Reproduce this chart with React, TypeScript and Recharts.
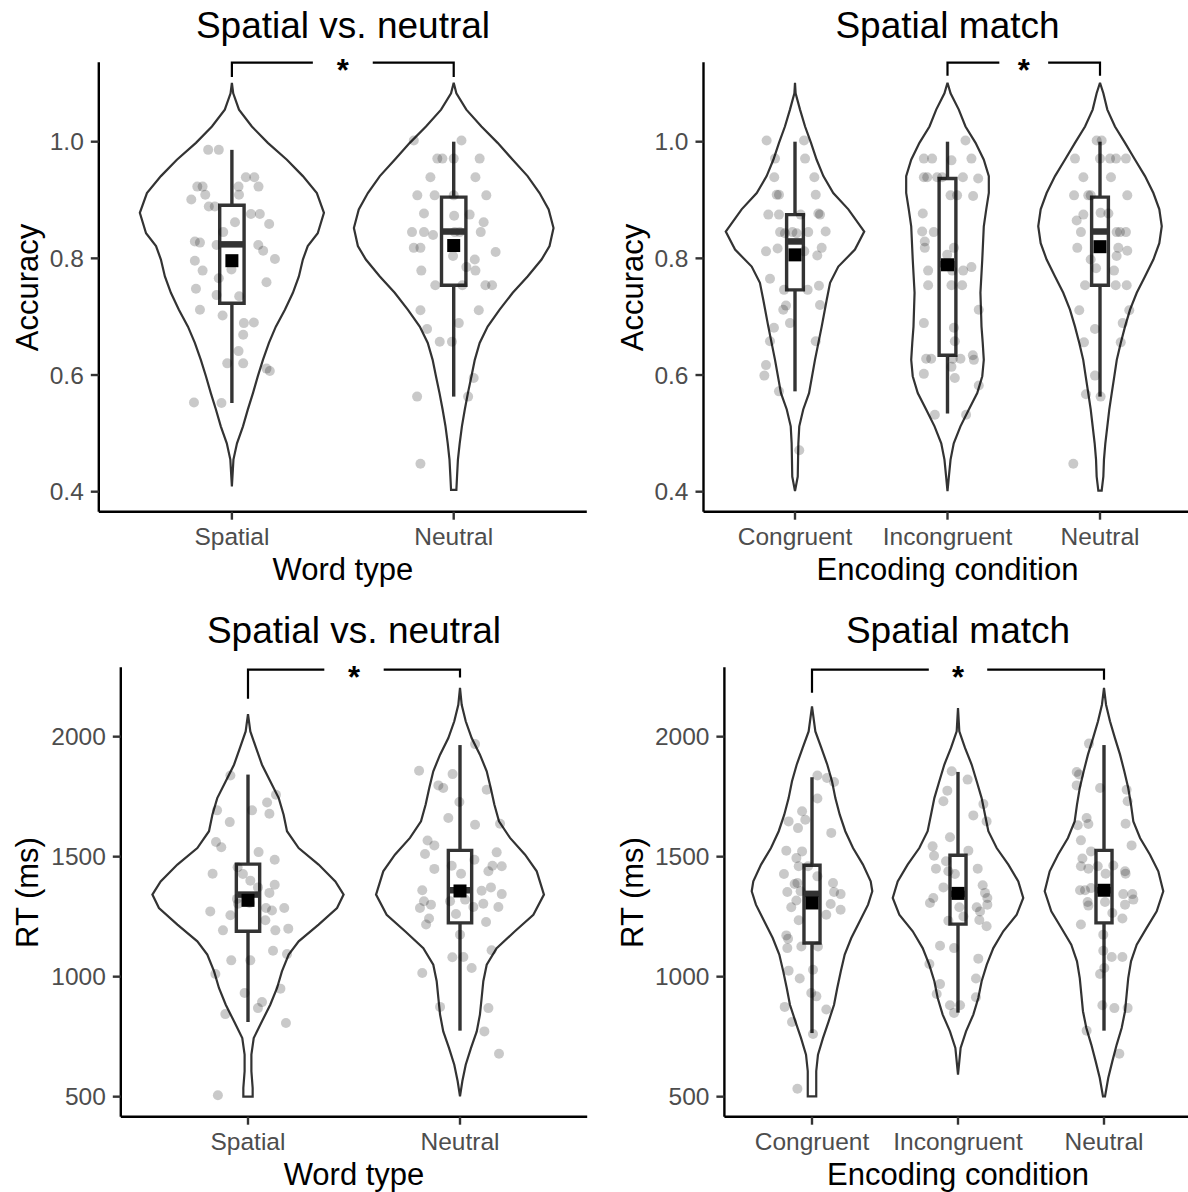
import React from 'react';
import { ComposedChart, XAxis, YAxis, Scatter } from 'recharts';

const FONT = '"Liberation Sans", Arial, Helvetica, sans-serif';
const INK = '#333333';

// ---------------- categories & ticks ----------------
const wordTypes = ['Spatial', 'Neutral'];
const encodingConditions = ['Congruent', 'Incongruent', 'Neutral'];
const accuracyTicks = [0.4, 0.6, 0.8, 1.0];
const rtTicks = [500, 1000, 1500, 2000];

// ---------------- Accuracy / Word type : Spatial ----------------
const accSpatialLevels = [1.101, 1.083, 1.055, 1.026, 0.998, 0.969, 0.941, 0.912, 0.878, 0.843, 0.821, 0.798, 0.769, 0.741, 0.712, 0.683, 0.655, 0.626, 0.598, 0.569, 0.541, 0.512, 0.483, 0.455, 0.409];
const accSpatialHalf = [0, 0.006, 0.032, 0.09, 0.162, 0.248, 0.32, 0.383, 0.415, 0.387, 0.342, 0.32, 0.302, 0.275, 0.239, 0.198, 0.167, 0.14, 0.117, 0.095, 0.072, 0.05, 0.023, 0.007, 0];
const accSpatialValues = [0.986, 0.986, 0.939, 0.939, 0.923, 0.923, 0.923, 0.923, 0.909, 0.901, 0.909, 0.889, 0.889, 0.876, 0.876, 0.862, 0.859, 0.845, 0.829, 0.827, 0.823, 0.823, 0.813, 0.796, 0.799, 0.779, 0.781, 0.766, 0.759, 0.748, 0.737, 0.735, 0.712, 0.702, 0.689, 0.69, 0.669, 0.641, 0.62, 0.62, 0.611, 0.607, 0.553, 0.552];
const accSpatialJitter = [-0.107, -0.059, 0.063, 0.101, -0.156, -0.132, 0.12, 0.03, -0.12, -0.183, 0.032, -0.104, -0.077, 0.086, 0.126, 0.014, 0.168, -0.039, -0.167, -0.144, -0.069, 0.119, 0.141, -0.167, 0.194, -0.132, -0.002, -0.059, 0.156, -0.162, -0.069, 0.033, -0.144, -0.042, 0.054, 0.099, 0.051, 0.03, -0.021, 0.051, 0.156, 0.171, -0.171, -0.047];
const accSpatialBox = [0.552, 0.723, 0.824, 0.891, 0.986];
const accSpatialMean = 0.796;

// ---------------- Accuracy / Word type : Neutral ----------------
const accNeutralWLevels = [1.101, 1.083, 1.055, 1.026, 0.998, 0.969, 0.941, 0.912, 0.884, 0.852, 0.821, 0.798, 0.769, 0.741, 0.712, 0.683, 0.655, 0.626, 0.598, 0.569, 0.541, 0.512, 0.483, 0.455, 0.426, 0.403];
const accNeutralWHalf = [0, 0.012, 0.057, 0.125, 0.198, 0.266, 0.333, 0.387, 0.428, 0.45, 0.432, 0.396, 0.333, 0.266, 0.207, 0.153, 0.117, 0.095, 0.08, 0.064, 0.05, 0.037, 0.027, 0.019, 0.015, 0.012];
const accNeutralWValues = [1.002, 1.002, 0.971, 0.971, 0.971, 0.971, 0.939, 0.939, 0.908, 0.908, 0.908, 0.908, 0.877, 0.873, 0.875, 0.862, 0.845, 0.845, 0.84, 0.845, 0.845, 0.845, 0.818, 0.818, 0.811, 0.804, 0.798, 0.785, 0.779, 0.779, 0.754, 0.754, 0.754, 0.754, 0.711, 0.711, 0.689, 0.679, 0.657, 0.657, 0.595, 0.563, 0.563, 0.448];
const accNeutralWJitter = [-0.18, 0.035, -0.074, -0.051, 0, 0.117, -0.105, 0.098, -0.164, -0.086, 0, 0.147, -0.134, 0.002, 0.072, 0.135, -0.188, -0.134, -0.093, 0.005, 0.027, 0.122, -0.18, -0.15, 0.189, -0.003, 0.095, 0.057, -0.146, 0.098, -0.083, 0.039, 0.143, 0.173, -0.15, 0.113, 0.023, -0.12, -0.063, -0.008, 0.09, -0.165, 0.065, -0.15];
const accNeutralWBox = [0.563, 0.754, 0.846, 0.905, 1.0];
const accNeutralWMean = 0.822;

// ---------------- Accuracy / Encoding : Congruent ----------------
const accCongruentLevels = [1.101, 1.083, 1.055, 1.026, 0.998, 0.969, 0.941, 0.912, 0.884, 0.846, 0.815, 0.786, 0.758, 0.729, 0.683, 0.626, 0.569, 0.541, 0.512, 0.483, 0.426, 0.401];
const accCongruentHalf = [0, 0.004, 0.033, 0.066, 0.105, 0.142, 0.186, 0.251, 0.35, 0.454, 0.393, 0.284, 0.23, 0.208, 0.175, 0.131, 0.092, 0.054, 0.028, 0.022, 0.018, 0];
const accCongruentValues = [1.002, 1.002, 0.971, 0.971, 0.939, 0.939, 0.909, 0.909, 0.909, 0.875, 0.875, 0.875, 0.877, 0.875, 0.845, 0.845, 0.843, 0.845, 0.846, 0.843, 0.812, 0.817, 0.812, 0.818, 0.805, 0.765, 0.746, 0.753, 0.746, 0.719, 0.712, 0.72, 0.681, 0.689, 0.658, 0.658, 0.617, 0.599, 0.572, 0.471];
const accCongruentJitter = [-0.186, 0.059, -0.131, 0.066, -0.136, 0.127, -0.12, -0.105, 0.136, -0.175, -0.105, 0.037, 0.153, 0.164, -0.098, -0.017, 0.011, 0.087, 0.201, -0.066, -0.19, -0.114, 0.061, 0.175, 0.146, -0.164, 0.083, 0.157, -0.072, -0.059, -0.077, 0.164, -0.138, -0.033, -0.164, 0.136, -0.19, -0.201, -0.105, 0.028];
const accCongruentBox = [0.572, 0.746, 0.829, 0.875, 1.0];
const accCongruentMean = 0.806;

// ---------------- Accuracy / Encoding : Incongruent ----------------
const accIncongruentLevels = [1.101, 1.083, 1.055, 1.026, 0.998, 0.969, 0.941, 0.912, 0.884, 0.855, 0.798, 0.741, 0.683, 0.655, 0.626, 0.598, 0.569, 0.541, 0.512, 0.483, 0.455, 0.426, 0.401];
const accIncongruentHalf = [0, 0.02, 0.074, 0.118, 0.184, 0.238, 0.271, 0.271, 0.254, 0.238, 0.228, 0.216, 0.223, 0.231, 0.238, 0.228, 0.195, 0.14, 0.085, 0.041, 0.02, 0.009, 0];
const accIncongruentValues = [1.002, 0.971, 0.971, 0.968, 0.971, 0.939, 0.939, 0.939, 0.939, 0.939, 0.937, 0.908, 0.908, 0.907, 0.877, 0.846, 0.845, 0.829, 0.818, 0.818, 0.806, 0.779, 0.779, 0.779, 0.785, 0.754, 0.754, 0.754, 0.712, 0.689, 0.681, 0.658, 0.628, 0.628, 0.628, 0.628, 0.634, 0.626, 0.602, 0.614, 0.595, 0.582, 0.532, 0.532];
const accIncongruentJitter = [0.118, -0.155, -0.101, 0.026, 0.157, -0.155, -0.133, -0.068, -0.035, 0.101, 0.201, 0.02, 0.063, 0.168, -0.162, -0.166, -0.09, -0.149, -0.149, 0.042, -0.002, -0.127, 0.031, 0.103, 0.157, -0.127, 0.026, 0.096, 0.205, -0.155, 0.042, 0.048, -0.14, -0.107, 0.035, 0.085, 0.166, 0.173, -0.155, 0.026, 0.048, 0.205, -0.083, 0.122];
const accIncongruentBox = [0.534, 0.634, 0.79, 0.937, 1.0];
const accIncongruentMean = 0.789;

// ---------------- Accuracy / Encoding : Neutral ----------------
const accNeutralELevels = [1.101, 1.083, 1.055, 1.026, 0.998, 0.969, 0.941, 0.912, 0.884, 0.855, 0.826, 0.798, 0.769, 0.741, 0.712, 0.683, 0.655, 0.626, 0.598, 0.569, 0.541, 0.512, 0.483, 0.455, 0.426, 0.402];
const accNeutralEHalf = [0, 0.022, 0.048, 0.098, 0.164, 0.23, 0.295, 0.35, 0.389, 0.405, 0.389, 0.35, 0.295, 0.241, 0.197, 0.164, 0.136, 0.11, 0.094, 0.077, 0.061, 0.048, 0.035, 0.026, 0.022, 0.011];
const accNeutralEValues = [1.002, 1.002, 0.971, 0.971, 0.971, 0.971, 0.971, 0.939, 0.939, 0.908, 0.908, 0.908, 0.908, 0.875, 0.878, 0.877, 0.865, 0.845, 0.845, 0.845, 0.845, 0.818, 0.818, 0.813, 0.798, 0.804, 0.783, 0.779, 0.754, 0.754, 0.754, 0.711, 0.711, 0.679, 0.689, 0.656, 0.656, 0.599, 0.567, 0.563, 0.448];
const accNeutralEJitter = [-0.022, 0.011, -0.164, 0, 0.066, 0.105, 0.17, -0.109, 0.072, -0.17, -0.077, -0.061, 0.179, -0.109, 0.004, 0.055, -0.153, -0.125, 0.109, 0.131, 0.17, -0.149, 0.12, 0.179, -0.061, 0.109, -0.026, 0.092, -0.098, 0.103, 0.175, -0.136, 0.192, -0.033, 0.149, -0.105, 0.136, -0.033, -0.092, 0.004, -0.175];
const accNeutralEBox = [0.563, 0.754, 0.846, 0.905, 1.0];
const accNeutralEMean = 0.82;

// ---------------- RT / Word type : Spatial ----------------
const rtSpatialLevels = [2094, 2022, 1953, 1883, 1814, 1744, 1675, 1606, 1536, 1467, 1397, 1342, 1286, 1217, 1147, 1092, 1022, 953, 883, 814, 744, 675, 606, 536, 500];
const rtSpatialHalf = [0, 0.011, 0.038, 0.066, 0.105, 0.145, 0.168, 0.184, 0.239, 0.333, 0.412, 0.451, 0.42, 0.333, 0.239, 0.192, 0.16, 0.137, 0.105, 0.066, 0.027, 0.016, 0.016, 0.022, 0.022];
const rtSpatialValues = [1838, 1693, 1644, 1693, 1726, 1679, 1758, 1561, 1539, 1519, 1487, 1429, 1456, 1428, 1400, 1372, 1383, 1349, 1324, 1272, 1256, 1304, 1307, 1286, 1276, 1286, 1193, 1235, 1193, 1200, 1108, 1094, 1068, 1068, 1011, 950, 932, 894, 869, 844, 807, 506];
const rtSpatialJitter = [-0.083, -0.146, -0.086, 0.019, 0.09, 0.101, 0.132, -0.151, -0.126, 0.05, 0.126, -0.167, -0.049, -0.024, 0.011, 0.047, 0.126, 0.101, -0.052, -0.178, -0.083, -0.047, 0.008, 0.085, 0.113, 0.171, -0.118, 0.082, 0.129, 0.19, 0.118, 0.184, -0.079, 0.011, -0.154, 0.153, -0.016, 0.066, 0.047, -0.107, 0.179, -0.142];
const rtSpatialBox = [811, 1189, 1342, 1469, 1842];
const rtSpatialMean = 1318;

// ---------------- RT / Word type : Neutral ----------------
const rtNeutralWLevels = [2203, 2133, 2064, 1994, 1925, 1856, 1786, 1717, 1647, 1578, 1508, 1439, 1342, 1258, 1189, 1119, 1050, 981, 911, 842, 772, 703, 633, 564, 501];
const rtNeutralWHalf = [0, 0.008, 0.027, 0.055, 0.094, 0.126, 0.145, 0.162, 0.184, 0.236, 0.307, 0.362, 0.396, 0.346, 0.259, 0.173, 0.126, 0.11, 0.102, 0.094, 0.079, 0.052, 0.027, 0.011, 0];
const rtNeutralWValues = [1969, 1858, 1844, 1797, 1786, 1779, 1728, 1661, 1633, 1637, 1567, 1547, 1511, 1487, 1518, 1462, 1449, 1429, 1439, 1462, 1460, 1360, 1358, 1372, 1344, 1314, 1314, 1300, 1286, 1321, 1290, 1304, 1290, 1242, 1217, 1261, 1228, 1175, 1110, 1081, 1082, 1036, 1015, 874, 869, 772, 679];
const rtNeutralWJitter = [0.071, -0.193, -0.035, -0.102, -0.079, 0.126, -0.003, -0.055, 0.071, 0.189, -0.153, -0.121, -0.165, 0.068, 0.173, -0.039, -0.121, 0.005, 0.134, 0.153, 0.197, -0.178, 0.102, 0.146, 0.197, -0.047, -0.17, -0.137, -0.189, 0.024, 0.063, 0.11, 0.181, -0.146, -0.16, -0.019, 0.123, 0, 0.149, -0.036, 0.016, 0.055, -0.178, -0.094, 0.134, 0.115, 0.184];
const rtNeutralWBox = [775, 1224, 1360, 1526, 1965];
const rtNeutralWMean = 1357;

// ---------------- RT / Encoding : Congruent ----------------
const rtCongruentLevels = [2126, 2022, 1953, 1883, 1814, 1744, 1675, 1606, 1536, 1467, 1397, 1356, 1300, 1231, 1161, 1092, 1022, 953, 883, 814, 744, 675, 606, 501];
const rtCongruentHalf = [0, 0.023, 0.064, 0.105, 0.137, 0.16, 0.19, 0.228, 0.281, 0.349, 0.402, 0.413, 0.384, 0.327, 0.269, 0.224, 0.197, 0.173, 0.151, 0.114, 0.075, 0.041, 0.029, 0.029];
const rtCongruentValues = [1838, 1828, 1811, 1742, 1689, 1654, 1647, 1619, 1599, 1525, 1522, 1494, 1460, 1460, 1418, 1428, 1390, 1386, 1353, 1356, 1390, 1353, 1344, 1317, 1289, 1235, 1303, 1258, 1279, 1172, 1158, 1119, 1126, 1126, 1025, 992, 1029, 932, 918, 874, 863, 811, 761, 533];
const rtCongruentJitter = [0.037, 0.103, 0.151, 0.037, -0.068, -0.046, -0.16, -0.096, 0.132, -0.176, -0.068, -0.107, -0.091, -0.027, 0.037, -0.192, -0.1, -0.119, -0.169, -0.078, 0.144, 0.151, 0.196, -0.107, -0.142, -0.091, 0.128, 0.098, 0.196, -0.176, -0.164, -0.169, -0.073, 0.041, -0.16, -0.084, 0.007, -0.005, 0.03, -0.187, 0.098, -0.137, 0.007, -0.1];
const rtCongruentBox = [765, 1140, 1345, 1464, 1831];
const rtCongruentMean = 1307;

// ---------------- RT / Encoding : Incongruent ----------------
const rtIncongruentLevels = [2119, 2022, 1953, 1883, 1814, 1744, 1675, 1606, 1536, 1467, 1397, 1328, 1258, 1189, 1119, 1050, 981, 911, 842, 772, 703, 592];
const rtIncongruentHalf = [0, 0.009, 0.048, 0.094, 0.128, 0.162, 0.185, 0.208, 0.265, 0.345, 0.413, 0.447, 0.402, 0.31, 0.242, 0.197, 0.162, 0.139, 0.105, 0.055, 0.018, 0];
const rtIncongruentValues = [1856, 1821, 1775, 1731, 1719, 1672, 1647, 1581, 1543, 1504, 1525, 1450, 1450, 1439, 1481, 1428, 1372, 1381, 1349, 1328, 1307, 1328, 1300, 1289, 1272, 1289, 1251, 1233, 1236, 1210, 1129, 1119, 1075, 1053, 969, 928, 992, 914, 881, 881, 849];
const rtIncongruentJitter = [-0.043, 0.066, -0.073, -0.1, 0.174, 0.105, 0.196, -0.055, -0.174, -0.164, 0.071, 0.135, -0.151, -0.066, -0.082, -0.021, -0.1, 0.169, 0.185, -0.169, -0.192, 0.201, 0.201, 0.128, 0.151, 0.009, 0.037, -0.066, 0.146, 0.196, -0.123, -0.027, 0.139, -0.196, -0.123, -0.146, 0.123, 0.123, -0.055, 0.014, -0.027];
const rtIncongruentBox = [850, 1219, 1345, 1506, 1853];
const rtIncongruentMean = 1347;

// ---------------- RT / Encoding : Neutral ----------------
const rtNeutralELevels = [2203, 2133, 2064, 1994, 1925, 1856, 1786, 1717, 1647, 1578, 1508, 1439, 1356, 1272, 1203, 1133, 1064, 994, 925, 856, 786, 717, 647, 578, 501];
const rtNeutralEHalf = [0, 0.014, 0.041, 0.075, 0.11, 0.139, 0.166, 0.185, 0.201, 0.247, 0.315, 0.372, 0.406, 0.361, 0.292, 0.224, 0.185, 0.166, 0.155, 0.144, 0.121, 0.087, 0.057, 0.029, 0.007];
const rtNeutralEValues = [1971, 1853, 1842, 1797, 1786, 1779, 1731, 1661, 1636, 1631, 1637, 1568, 1547, 1522, 1492, 1460, 1460, 1450, 1463, 1439, 1429, 1429, 1360, 1360, 1369, 1344, 1344, 1300, 1321, 1311, 1296, 1311, 1265, 1217, 1242, 1175, 1108, 1082, 1082, 1036, 1011, 881, 869, 869, 775, 679];
const rtNeutralEJitter = [-0.103, -0.187, -0.171, -0.187, -0.027, 0.155, 0.162, -0.119, -0.107, -0.18, 0.148, -0.158, 0.189, -0.089, -0.148, -0.158, -0.043, -0.107, 0.064, 0.144, 0.148, 0.011, -0.164, -0.13, -0.089, 0.132, 0.194, 0.144, 0.201, -0.112, -0.107, 0.007, 0.057, -0.158, 0.126, -0.005, -0.005, 0.053, 0.126, 0.002, -0.027, -0.011, 0.071, 0.162, -0.119, 0.105];
const rtNeutralEBox = [775, 1224, 1360, 1526, 1965];
const rtNeutralEMean = 1360;

// ---------------- significance brackets: [from, to], top, tips ----------------
const accWordBracket = { pair: [1, 2], top: 1.1355, tips: [1.111, 1.111], gap: 0.135 };
const accEncBracket = { pair: [2, 3], top: 1.1355, tips: [1.113, 1.113], gap: 0.16 };
const rtWordBracket = { pair: [1, 2], top: 2279, tips: [2158, 2246], gap: 0.14 };
const rtEncBracket = { pair: [1, 3], top: 2279, tips: [2183, 2237], gap: 0.2 };

const accDomain = [0.3657, 1.1361];
const rtDomain = [416.5, 2289];

// ---------------- helpers ----------------
type Group = { levels: number[]; half: number[]; values: number[]; jitter: number[]; box: number[]; mean: number };
const grp = (levels: number[], half: number[], values: number[], jitter: number[], box: number[], mean: number): Group =>
  ({ levels, half, values, jitter, box, mean });

const BOX_HALF = 0.055;

const violinOutline = (c: number, g: Group) => {
  const right = g.levels.map((v, i) => ({ x: c + g.half[i], y: v }));
  const left = g.levels.map((v, i) => ({ x: c - g.half[i], y: v })).reverse();
  return [...right, ...left, right[0]];
};

const NoShape = () => <g />;
const PointShape = (p: any) => <circle cx={p.cx} cy={p.cy} r={5} fill="#000" fillOpacity={0.21} />;
const MeanShape = (p: any) => <rect x={p.cx - 6.5} y={p.cy - 6.5} width={13} height={13} fill="#000" />;
const StarShape = (p: any) => (
  <text x={p.cx} y={p.cy + 18} textAnchor="middle" fontSize={31} fontWeight="bold" fontFamily={FONT} fill="#000">*</text>
);

type PanelProps = {
  left: number; top: number; axisWidth: number; marginRight: number;
  categories: string[]; groups: Group[]; domain: number[]; ticks: number[];
  fmt: (v: number) => string; bracket: { pair: number[]; top: number; tips: number[]; gap: number };
};

function Panel({ left, top, axisWidth, marginRight, categories, groups, domain, ticks, fmt, bracket }: PanelProps) {
  const n = categories.length;
  const [b1, b2] = bracket.pair;
  const mid = (b1 + b2) / 2;
  const line = (stroke: string, w: number) => ({ stroke, strokeWidth: w, fill: 'none', strokeLinejoin: 'miter' as const });
  return (
    <div style={{ position: 'absolute', left, top }}>
      <ComposedChart width={594} height={600} margin={{ top: 62.3, right: marginRight, bottom: 48.3, left: 0 }}>
        <XAxis
          type="number" dataKey="x" domain={[0.4, n + 0.6]} ticks={categories.map((_, i) => i + 1)} interval={0}
          tickFormatter={(v: number) => categories[Math.round(v) - 1] ?? ''}
          height={40} tickSize={8} tickMargin={8}
          axisLine={{ stroke: '#000', strokeWidth: 2.4 }} tickLine={{ stroke: INK, strokeWidth: 2.4 }}
          tick={{ fill: '#4D4D4D', fontSize: 24.5, fontFamily: FONT }}
        />
        <YAxis
          type="number" dataKey="y" domain={domain} ticks={ticks} interval={0} tickFormatter={fmt}
          width={axisWidth} tickSize={8} tickMargin={7}
          axisLine={{ stroke: '#000', strokeWidth: 2.4 }} tickLine={{ stroke: INK, strokeWidth: 2.4 }}
          tick={{ fill: '#4D4D4D', fontSize: 24.5, fontFamily: FONT }}
        />
        {groups.map((g, i) => (
          <Scatter key={`v${i}`} data={violinOutline(i + 1, g)} line={line(INK, 2.2)} shape={NoShape} isAnimationActive={false} />
        ))}
        {groups.map((g, i) => {
          const c = i + 1;
          const [mn, q1, , q3, mx] = g.box;
          return [
            <Scatter key={`bx${i}`} isAnimationActive={false} shape={NoShape} line={line(INK, 3.4)}
              data={[{ x: c - BOX_HALF, y: q1 }, { x: c + BOX_HALF, y: q1 }, { x: c + BOX_HALF, y: q3 }, { x: c - BOX_HALF, y: q3 }, { x: c - BOX_HALF, y: q1 }, { x: c + BOX_HALF, y: q1 }]} />,
            <Scatter key={`wu${i}`} isAnimationActive={false} shape={NoShape} line={line(INK, 3.4)}
              data={[{ x: c, y: q3 }, { x: c, y: mx }]} />,
            <Scatter key={`wl${i}`} isAnimationActive={false} shape={NoShape} line={line(INK, 3.4)}
              data={[{ x: c, y: q1 }, { x: c, y: mn }]} />,
          ];
        })}
        {groups.map((g, i) => (
          <Scatter key={`p${i}`} isAnimationActive={false} shape={PointShape}
            data={g.values.map((v, k) => ({ x: i + 1 + g.jitter[k], y: v }))} />
        ))}
        {groups.map((g, i) => (
          <Scatter key={`md${i}`} isAnimationActive={false} shape={NoShape} line={line(INK, 6.5)}
            data={[{ x: i + 1 - BOX_HALF, y: g.box[2] }, { x: i + 1 + BOX_HALF, y: g.box[2] }]} />
        ))}
        {groups.map((g, i) => (
          <Scatter key={`mn${i}`} isAnimationActive={false} shape={MeanShape} data={[{ x: i + 1, y: g.mean }]} />
        ))}
        <Scatter key="brL" isAnimationActive={false} shape={NoShape} line={line('#000', 2.2)}
          data={[{ x: b1, y: bracket.tips[0] }, { x: b1, y: bracket.top }, { x: mid - bracket.gap, y: bracket.top }]} />
        <Scatter key="brR" isAnimationActive={false} shape={NoShape} line={line('#000', 2.2)}
          data={[{ x: mid + bracket.gap, y: bracket.top }, { x: b2, y: bracket.top }, { x: b2, y: bracket.tips[1] }]} />
        <Scatter key="star" isAnimationActive={false} shape={StarShape} data={[{ x: mid, y: bracket.top }]} />
      </ComposedChart>
    </div>
  );
}

function HText({ cx, baseline, fs, children }: { cx: number; baseline: number; fs: number; children: React.ReactNode }) {
  return (
    <div style={{
      position: 'absolute', left: cx - 400, width: 800, top: baseline - 0.8465 * fs, height: fs,
      fontSize: fs, lineHeight: `${fs}px`, textAlign: 'center', whiteSpace: 'nowrap', color: '#000', fontFamily: FONT,
    }}>{children}</div>
  );
}

function VText({ cx, cy, fs, children }: { cx: number; cy: number; fs: number; children: React.ReactNode }) {
  return (
    <div style={{
      position: 'absolute', left: cx - 200, width: 400, top: cy - fs / 2, height: fs,
      fontSize: fs, lineHeight: `${fs}px`, textAlign: 'center', whiteSpace: 'nowrap', color: '#000', fontFamily: FONT,
      transform: 'rotate(-90deg)', transformOrigin: '50% 50%',
    }}>{children}</div>
  );
}

const accFmt = (v: number) => v.toFixed(1);
const rtFmt = (v: number) => String(v);

export default function App() {
  const accWordGroups = [
    grp(accSpatialLevels, accSpatialHalf, accSpatialValues, accSpatialJitter, accSpatialBox, accSpatialMean),
    grp(accNeutralWLevels, accNeutralWHalf, accNeutralWValues, accNeutralWJitter, accNeutralWBox, accNeutralWMean),
  ];
  const accEncGroups = [
    grp(accCongruentLevels, accCongruentHalf, accCongruentValues, accCongruentJitter, accCongruentBox, accCongruentMean),
    grp(accIncongruentLevels, accIncongruentHalf, accIncongruentValues, accIncongruentJitter, accIncongruentBox, accIncongruentMean),
    grp(accNeutralELevels, accNeutralEHalf, accNeutralEValues, accNeutralEJitter, accNeutralEBox, accNeutralEMean),
  ];
  const rtWordGroups = [
    grp(rtSpatialLevels, rtSpatialHalf, rtSpatialValues, rtSpatialJitter, rtSpatialBox, rtSpatialMean),
    grp(rtNeutralWLevels, rtNeutralWHalf, rtNeutralWValues, rtNeutralWJitter, rtNeutralWBox, rtNeutralWMean),
  ];
  const rtEncGroups = [
    grp(rtCongruentLevels, rtCongruentHalf, rtCongruentValues, rtCongruentJitter, rtCongruentBox, rtCongruentMean),
    grp(rtIncongruentLevels, rtIncongruentHalf, rtIncongruentValues, rtIncongruentJitter, rtIncongruentBox, rtIncongruentMean),
    grp(rtNeutralELevels, rtNeutralEHalf, rtNeutralEValues, rtNeutralEJitter, rtNeutralEBox, rtNeutralEMean),
  ];

  return (
    <div style={{ position: 'absolute', left: 0, top: 0, width: 1188, height: 1192, overflow: 'hidden', background: '#fff', fontFamily: FONT }}>
      <Panel left={0} top={0} axisWidth={98.8} marginRight={7.2} categories={wordTypes} groups={accWordGroups}
        domain={accDomain} ticks={accuracyTicks} fmt={accFmt} bracket={accWordBracket} />
      <Panel left={605} top={0} axisWidth={98.5} marginRight={7.5} categories={encodingConditions} groups={accEncGroups}
        domain={accDomain} ticks={accuracyTicks} fmt={accFmt} bracket={accEncBracket} />
      <Panel left={0} top={605} axisWidth={120.8} marginRight={6.8} categories={wordTypes} groups={rtWordGroups}
        domain={rtDomain} ticks={rtTicks} fmt={rtFmt} bracket={rtWordBracket} />
      <Panel left={605} top={605} axisWidth={119.4} marginRight={7.4} categories={encodingConditions} groups={rtEncGroups}
        domain={rtDomain} ticks={rtTicks} fmt={rtFmt} bracket={rtEncBracket} />

      <HText cx={343} baseline={38} fs={37}>Spatial vs. neutral</HText>
      <HText cx={947.5} baseline={38} fs={37}>Spatial match</HText>
      <HText cx={354} baseline={643} fs={37}>Spatial vs. neutral</HText>
      <HText cx={958} baseline={643} fs={37}>Spatial match</HText>

      <HText cx={342.8} baseline={580} fs={31}>Word type</HText>
      <HText cx={947.5} baseline={580} fs={31}>Encoding condition</HText>
      <HText cx={354} baseline={1185} fs={31}>Word type</HText>
      <HText cx={958} baseline={1185} fs={31}>Encoding condition</HText>

      <VText cx={27} cy={287} fs={31}>Accuracy</VText>
      <VText cx={632} cy={287} fs={31}>Accuracy</VText>
      <VText cx={27} cy={892} fs={31}>RT (ms)</VText>
      <VText cx={632} cy={892} fs={31}>RT (ms)</VText>
    </div>
  );
}
